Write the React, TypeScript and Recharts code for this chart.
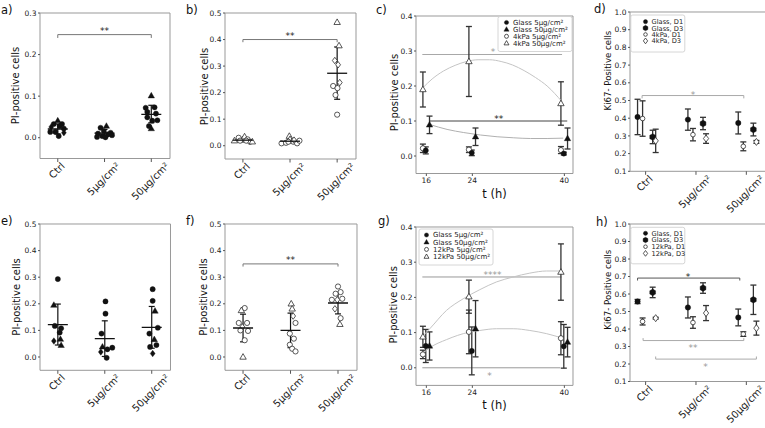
import React from 'react';
import {
  ComposedChart,
  Scatter,
  XAxis,
  YAxis,
  ErrorBar,
  ReferenceLine,
  ReferenceArea,
} from 'recharts';

const FONT = '"DejaVu Sans", Verdana, sans-serif';

// ---------------- data ----------------
const categories = ['Ctrl', '5µg/cm²', '50µg/cm²'];
const catTicks = [0, 1, 2];
const times = [16, 24, 40];
const timeTicks = [16, 24, 40];

// panel a (filled markers)
const aValues = [
  [0.041, 0.033, 0.033, 0.026, 0.028, 0.022, 0.014, 0.014, 0.012, 0.004],
  [0.028, 0.024, 0.016, 0.012, 0.010, 0.008, 0.004, 0.002, 0.006, 0.001],
  [0.101, 0.072, 0.073, 0.062, 0.058, 0.049, 0.041, 0.042, 0.028, 0.022],
];
const aMarkers = ['^oodoooodo', '^ooooooooo', '^oooooooo^'];
const aJitter = [
  [0, -0.085, 0.09, -0.14, 0.04, 0.13, -0.16, -0.05, 0.13, 0.02],
  [0.04, -0.085, -0.015, 0.13, -0.14, 0.07, -0.05, -0.16, 0.16, 0.02],
  [0, -0.12, 0.07, -0.085, 0.1, -0.085, 0.02, 0.13, -0.05, 0],
];
const aMean = [0.021, 0.011, 0.056];
const aLow = [0.009, 0.002, 0.036];
const aHigh = [0.033, 0.02, 0.078];

// panel b (open markers)
const bValues = [
  [0.019, 0.030, 0.024, 0.034, 0.024, 0.019, 0.015, 0.015, 0.019],
  [0.036, 0.024, 0.009, 0.011, 0.015, 0.009, 0.019, 0.021, 0.015],
  [0.465, 0.377, 0.321, 0.305, 0.225, 0.238, 0.217, 0.191, 0.117],
];
const bMarkers = ['^od^ooo^o', '^^ooooodo', '^^ddodooo'];
const bJitter = [
  [-0.18, -0.09, 0, 0.035, 0.1, -0.06, 0.15, 0.2, 0.07],
  [-0.015, 0, -0.18, -0.085, 0.07, 0.15, 0.2, 0.085, -0.035],
  [0, 0.04, -0.05, 0.02, -0.085, 0.055, 0.007, -0.035, 0],
];
const bMean = [0.021, 0.017, 0.273];
const bLow = [0.015, 0.011, 0.175];
const bHigh = [0.027, 0.023, 0.372];

// panel e (filled markers)
const eValues = [
  [0.293, 0.195, 0.117, 0.108, 0.092, 0.060, 0.067, 0.044],
  [0.209, 0.163, 0.088, 0.038, 0.019, 0.035, -0.003, 0.029],
  [0.255, 0.211, 0.173, 0.110, 0.088, 0.066, 0.045, 0.038, 0.013],
];
const eMarkers = ['o^oood^^', 'ooo^dooo', 'oo^oo^ood'];
const eJitter = [
  [0, -0.085, -0.065, 0.07, 0.04, -0.085, 0.055, 0.07],
  [0.015, 0.015, -0.07, -0.05, -0.085, 0.16, 0.04, 0.055],
  [0.02, 0.02, 0.07, 0.13, -0.05, 0.055, 0.1, -0.035, 0.02],
];
const eMean = [0.122, 0.069, 0.111];
const eLow = [0.045, 0.002, 0.033];
const eHigh = [0.199, 0.136, 0.19];

// panel f (open markers)
const fValues = [
  [0.184, 0.175, 0.128, 0.128, 0.113, 0.1, 0.098, 0.063, 0.0],
  [0.2, 0.181, 0.154, 0.128, 0.088, 0.069, 0.046, 0.031, 0.021],
  [0.265, 0.244, 0.238, 0.215, 0.215, 0.219, 0.181, 0.146, 0.123],
];
const fMarkers = ['o^oodooo^', '^^doooooo', 'oooododo^'];
const fJitter = [
  [0.035, -0.035, -0.09, 0.085, -0.015, -0.055, 0.105, 0.035, 0],
  [0.015, 0.035, 0.055, 0.105, -0.015, 0.07, -0.015, 0.035, 0.105],
  [0, 0.055, -0.05, -0.13, -0.015, 0.09, -0.065, 0.055, 0.04],
];
const fMean = [0.109, 0.1, 0.203];
const fLow = [0.057, 0.035, 0.162];
const fHigh = [0.161, 0.165, 0.243];

// panel c
const cGlass5 = [0.016, 0.009, 0.007];
const cGlass5Err = [0.01, 0.008, 0.004];
const cGlass50 = [0.089, 0.055, 0.05];
const cGlass50Err = [0.025, 0.025, 0.03];
const cSoft5 = [0.022, 0.018, 0.017];
const cSoft5Err = [0.012, 0.008, 0.01];
const cSoft50 = [0.19, 0.27, 0.15];
const cSoft50Err = [0.05, 0.1, 0.062];
const cFitUpperT = [15.4, 17, 19, 21, 23, 25, 27, 29, 31, 33, 35, 37, 39.6];
const cFitUpper = [0.195, 0.22, 0.243, 0.259, 0.27, 0.275, 0.275, 0.27, 0.26, 0.244, 0.224, 0.2, 0.155];
const cFitLowerT = [16.6, 19.6, 22.5, 25.4, 28.3, 31.2, 34.1, 37, 39.8];
const cFitLower = [0.09, 0.076, 0.067, 0.06, 0.055, 0.052, 0.05, 0.05, 0.051];

// panel g
const gGlass5 = [0.062, 0.048, 0.061];
const gGlass5Err = [0.047, 0.068, 0.062];
const gGlass50 = [0.062, 0.111, 0.073];
const gGlass50Err = [0.04, 0.08, 0.042];
const gSoft5 = [0.038, 0.102, 0.084];
const gSoft5Err = [0.012, 0.062, 0.047];
const gSoft50 = [0.088, 0.202, 0.272];
const gSoft50Err = [0.03, 0.047, 0.08];
const gFitUpperT = [15.3, 16.6, 19.5, 22.4, 25.3, 28.2, 31.1, 34, 36.9, 39.5];
const gFitUpper = [0.089, 0.111, 0.163, 0.196, 0.222, 0.244, 0.258, 0.269, 0.275, 0.275];
const gFitLowerT = [15.3, 16.6, 19.5, 23.4, 25.3, 28.2, 31.1, 34, 36.9, 39.5];
const gFitLower = [0.04, 0.057, 0.08, 0.101, 0.106, 0.111, 0.111, 0.106, 0.097, 0.085];

// panel d
const dGlassD1 = [0.407, 0.392, 0.373];
const dGlassD1Err = [0.1, 0.06, 0.062];
const dSoftD1 = [0.398, 0.307, 0.241];
const dSoftD1Err = [0.1, 0.035, 0.025];
const dGlassD3 = [0.294, 0.37, 0.336];
const dGlassD3Err = [0.038, 0.035, 0.036];
const dSoftD3 = [0.272, 0.285, 0.266];
const dSoftD3Err = [0.066, 0.027, 0.008];

// panel h
const hGlassD1 = [0.557, 0.523, 0.466];
const hGlassD1Err = [0.012, 0.06, 0.048];
const hSoftD1 = [0.443, 0.437, 0.371];
const hSoftD1Err = [0.02, 0.033, 0.013];
const hGlassD3 = [0.609, 0.634, 0.567];
const hGlassD3Err = [0.03, 0.03, 0.084];
const hSoftD3 = [0.462, 0.491, 0.405];
const hSoftD3Err = [0.005, 0.043, 0.04];

// legends
const cLegend = ['Glass 5µg/cm²', 'Glass 50µg/cm²', '4kPa 5µg/cm²', '4kPa 50µg/cm²'];
const gLegend = ['Glass 5µg/cm²', 'Glass 50µg/cm²', '12kPa 5µg/cm²', '12kPa 50µg/cm²'];
const dLegend = ['Glass, D1', 'Glass, D3', '4kPa, D1', '4kPa, D3'];
const hLegend = ['Glass, D1', 'Glass, D3', '12kPa, D1', '12kPa, D3'];

// ---------------- layout constants (not data) ----------------
const timeOffset = { soft: -0.6, glass5: -0.1, glass50: 0.55 };
const dayOffset = { glassD1: -0.16, softD1: -0.06, glassD3: 0.14, softD3: 0.2 };
const ML = 50, MT = 8, MR = 8, MB = 60;

// ---------------- helpers ----------------
const CW: Record<string, number> = {
  '0': 0.636, '1': 0.636, '2': 0.636, '3': 0.636, '4': 0.636, '5': 0.636,
  'µ': 0.636, g: 0.635, '/': 0.337, c: 0.55, m: 0.974, '²': 0.4, C: 0.698, t: 0.392, r: 0.411, l: 0.278,
};
const textW = (s: string, fs: number) => Array.from(s).reduce((a, ch) => a + (CW[ch] ?? 0.6), 0) * fs;

function Mk({ cx, cy, m, open, r = 2.6 }: any) {
  const fill = open ? '#fff' : '#111';
  const stroke = open ? '#222' : '#111';
  const sw = open ? 0.75 : 0.4;
  if (m === '^') {
    const s = r * 1.3;
    return (
      <polygon
        points={`${cx},${cy - s} ${cx + s * 0.95},${cy + s * 0.65} ${cx - s * 0.95},${cy + s * 0.65}`}
        fill={fill} stroke={stroke} strokeWidth={sw}
      />
    );
  }
  if (m === 'd') {
    const s = r * 1.25;
    return (
      <polygon
        points={`${cx},${cy - s} ${cx + s * 0.75},${cy} ${cx},${cy + s} ${cx - s * 0.75},${cy}`}
        fill={fill} stroke={stroke} strokeWidth={sw}
      />
    );
  }
  if (m === 'h') {
    const s = r * 1.15;
    const pts = [0, 1, 2, 3, 4, 5]
      .map((k) => {
        const ang = (Math.PI / 3) * k + Math.PI / 2;
        return `${cx + s * Math.cos(ang)},${cy - s * Math.sin(ang)}`;
      })
      .join(' ');
    return <polygon points={pts} fill={fill} stroke={stroke} strokeWidth={sw} />;
  }
  return <circle cx={cx} cy={cy} r={r} fill={fill} stroke={stroke} strokeWidth={sw} />;
}

const pointShape = (open: boolean, r = 2.6) => (p: any) =>
  <Mk cx={p.cx} cy={p.cy} m={(p.payload && p.payload.m) || 'o'} open={open} r={r} />;
const meanShape = (p: any) => (
  <line x1={p.cx - 10} x2={p.cx + 10} y1={p.cy} y2={p.cy} stroke="#111" strokeWidth={1.3} />
);
const emptyShape = () => <g />;

const stripPoints = (vals: number[][], marks: string[], jit: number[][]) =>
  vals.flatMap((arr, g) => arr.map((v, i) => ({ x: g + jit[g][i], y: v, m: marks[g][i] })));
const meanPoints = (mean: number[], low: number[], high: number[]) =>
  mean.map((mv, g) => ({ x: g, y: mv, e: [mv - low[g], high[g] - mv] }));

function strip(key: string, vals: number[][], marks: string[], jit: number[][], mean: number[], low: number[], high: number[], open: boolean) {
  return [
    <Scatter key={key + 'pts'} data={stripPoints(vals, marks, jit)} shape={pointShape(open)} isAnimationActive={false} />,
    <Scatter key={key + 'mean'} data={meanPoints(mean, low, high)} shape={meanShape} isAnimationActive={false}>
      <ErrorBar dataKey="e" direction="y" width={3} stroke="#111" strokeWidth={1.2} />
    </Scatter>,
  ];
}

function series(key: string, xs: number[], off: number, vals: number[], errs: number[], m: string, open: boolean, r = 2.6) {
  return (
    <Scatter
      key={key}
      data={xs.map((t, i) => ({ x: t + off, y: vals[i], e: errs[i], m }))}
      shape={pointShape(open, r)}
      isAnimationActive={false}
    >
      <ErrorBar dataKey="e" direction="y" width={3} stroke="#333" strokeWidth={1.3} />
    </Scatter>
  );
}

function curve(key: string, ts: number[], vs: number[], color: string) {
  return (
    <Scatter
      key={key}
      data={ts.map((t, i) => ({ x: t, y: vs[i] }))}
      line={{ stroke: color, strokeWidth: 1 }}
      lineJointType="monotoneX"
      shape={emptyShape}
      isAnimationActive={false}
    />
  );
}

function hline(key: string, x0: number, x1: number, y: number, color: string) {
  return (
    <ReferenceLine key={key} segment={[{ x: x0, y }, { x: x1, y }]} stroke={color} strokeWidth={1} ifOverflow="visible" />
  );
}

function bracket(key: string, x0: number, x1: number, y: number, tip: number, color: string) {
  return [
    hline(key + 'h', x0, x1, y, color),
    <ReferenceLine key={key + 'l'} segment={[{ x: x0, y }, { x: x0, y: tip }]} stroke={color} strokeWidth={1} ifOverflow="visible" />,
    <ReferenceLine key={key + 'r'} segment={[{ x: x1, y }, { x: x1, y: tip }]} stroke={color} strokeWidth={1} ifOverflow="visible" />,
  ];
}

function stars(key: string, x: number, y: number, text: string, color: string, fs = 9) {
  return (
    <Scatter
      key={key}
      data={[{ x, y }]}
      isAnimationActive={false}
      shape={(p: any) => (
        <text
          x={p.cx}
          y={p.cy + fs * 0.62}
          textAnchor="middle"
          fontSize={fs}
          fill={color}
          style={{ fill: color }}
          fontFamily={FONT}
        >
          {text}
        </text>
      )}
    />
  );
}

const catTick = (p: any) => {
  const label = categories[p.payload.value] ?? '';
  const fs = 10;
  const d = (textW(label, fs) + fs * 1.2) / (2 * Math.SQRT2);
  const cx = p.x - 1;
  const cy = p.y - 2 + d;
  return (
    <text
      x={cx}
      y={cy}
      transform={`rotate(-45 ${cx} ${cy})`}
      textAnchor="middle"
      dominantBaseline="central"
      fontSize={fs}
      fill="#222"
      fontFamily={FONT}
    >
      {label}
    </text>
  );
};

type Box = { x: number; y: number; w: number; h: number };

function panel(opts: {
  key: string;
  box: Box;
  xDom: number[];
  yDom: number[];
  yTicks: number[];
  kind: 'cat' | 'time';
  yLabel: string;
  yLabelPos: number[];
  yLabelSize: number;
  children: any;
}) {
  const { box, xDom, yDom, yTicks, kind } = opts;
  const ox = box.x - ML;
  const oy = box.y - MT;
  const [lx, ly] = [opts.yLabelPos[0] - ox, opts.yLabelPos[1] - oy];
  return (
    <div key={opts.key} style={{ position: 'absolute', left: ox, top: oy }}>
      <ComposedChart width={box.w + ML + MR} height={box.h + MT + MB} margin={{ top: MT, right: MR, bottom: 0, left: 0 }}>
        <XAxis
          type="number"
          dataKey="x"
          domain={xDom}
          allowDataOverflow
          ticks={kind === 'cat' ? catTicks : timeTicks}
          interval={0}
          height={MB}
          axisLine={false}
          tickSize={kind === 'cat' ? 3.5 : 2.5}
          tickMargin={kind === 'cat' ? 0 : 2}
          tickLine={{ stroke: '#555' }}
          tick={kind === 'cat' ? catTick : { fontSize: 7.5, fill: '#222', fontFamily: FONT }}
          label={
            kind === 'time'
              ? {
                  content: (lp: any) => {
                    const vb = lp.viewBox || {};
                    return (
                      <text x={vb.x + vb.width / 2} y={vb.y + 24} textAnchor="middle" fontSize={11.5} fill="#111" fontFamily={FONT}>
                        t (h)
                      </text>
                    );
                  },
                }
              : undefined
          }
        />
        <YAxis
          type="number"
          dataKey="y"
          domain={yDom}
          allowDataOverflow
          ticks={yTicks}
          interval={0}
          width={ML}
          axisLine={false}
          tickSize={2}
          tickMargin={1.5}
          tickLine={{ stroke: '#555' }}
          tick={{ fontSize: 7.5, fill: '#222', fontFamily: FONT }}
          tickFormatter={(v: number) => v.toFixed(1)}
          label={{
            content: () => (
              <text
                x={lx}
                y={ly}
                transform={`rotate(-90 ${lx} ${ly})`}
                textAnchor="middle"
                dominantBaseline="central"
                fontSize={opts.yLabelSize}
                fill="#111"
                fontFamily={FONT}
              >
                {opts.yLabel}
              </text>
            ),
          }}
        />
        <ReferenceArea x1={xDom[0]} x2={xDom[1]} y1={yDom[0]} y2={yDom[1]} fill="none" stroke="#999" strokeWidth={1} ifOverflow="visible" />
        {opts.children}
      </ComposedChart>
    </div>
  );
}

function LegendBox({ x, y, w, h, y0, dy, mx, tx, labels, kinds, fs = 7 }: any) {
  return (
    <g>
      <rect x={x} y={y} width={w} height={h} rx={2} fill="#fff" stroke="#ccc" strokeWidth={0.8} />
      {labels.map((lab: string, i: number) => (
        <g key={lab}>
          <Mk cx={mx} cy={y0 + i * dy} m={kinds[i].m} open={kinds[i].open} r={kinds[i].r} />
          <text x={tx} y={y0 + i * dy + 2.4} fontSize={fs} fill="#222" fontFamily={FONT}>
            {lab}
          </text>
        </g>
      ))}
    </g>
  );
}

const timeKinds = [
  { m: 'o', open: false, r: 2.1 },
  { m: '^', open: false, r: 2.1 },
  { m: 'o', open: true, r: 2.0 },
  { m: '^', open: true, r: 2.0 },
];
const dayKinds = [
  { m: 'o', open: false, r: 2.1 },
  { m: 'h', open: false, r: 2.4 },
  { m: 'o', open: true, r: 1.8 },
  { m: 'd', open: true, r: 2.3 },
];

export default function App() {
  const catDom = [-0.38, 2.4];
  const dayDom = [-0.31, 2.47];
  const tDom = [14.2, 41.5];
  const yPI5 = [0, 0.1, 0.2, 0.3, 0.4, 0.5];
  const yPI4 = [0, 0.1, 0.2, 0.3, 0.4];
  const yKi = [0.1, 0.2, 0.3, 0.4, 0.5, 0.6, 0.7, 0.8, 0.9, 1.0];

  const panels = [
    panel({
      key: 'a', box: { x: 40, y: 13, w: 130, h: 145.5 }, xDom: catDom, yDom: [-0.05, 0.3], yTicks: [0, 0.1, 0.2, 0.3],
      kind: 'cat', yLabel: 'PI-positive cells', yLabelPos: [15.5, 85.5], yLabelSize: 10,
      children: [
        ...bracket('ab', 0, 2, 0.248, 0.24, '#777'),
        stars('as', 1, 0.262, '**', '#222'),
        ...strip('a', aValues, aMarkers, aJitter, aMean, aLow, aHigh, false),
      ],
    }),
    panel({
      key: 'b', box: { x: 225, y: 13, w: 131, h: 146 }, xDom: catDom, yDom: [-0.05, 0.5], yTicks: yPI5,
      kind: 'cat', yLabel: 'PI-positive cells', yLabelPos: [204, 86.5], yLabelSize: 10,
      children: [
        ...bracket('bb', 0, 2, 0.4, 0.39, '#777'),
        stars('bs', 1, 0.422, '**', '#222'),
        ...strip('b', bValues, bMarkers, bJitter, bMean, bLow, bHigh, true),
      ],
    }),
    panel({
      key: 'c', box: { x: 416, y: 15.5, w: 157, h: 157.5 }, xDom: tDom, yDom: [-0.05, 0.4], yTicks: yPI4,
      kind: 'time', yLabel: 'PI-positive cells', yLabelPos: [394, 92], yLabelSize: 10,
      children: [
        curve('cu', cFitUpperT, cFitUpper, '#c4c4c4'),
        curve('cl', cFitLowerT, cFitLower, '#b0b0b0'),
        hline('cs1', 15.3, 39.6, 0.29, '#a8a8a8'),
        stars('cs1t', 27.6, 0.305, '*', '#999'),
        hline('cs2', 16.6, 40.5, 0.1, '#444'),
        stars('cs2t', 28.6, 0.114, '**', '#222'),
        series('c1', times, timeOffset.soft, cSoft50, cSoft50Err, '^', true),
        series('c2', times, timeOffset.soft, cSoft5, cSoft5Err, 'o', true),
        series('c3', times, timeOffset.glass5, cGlass5, cGlass5Err, 'o', false),
        series('c4', times, timeOffset.glass50, cGlass50, cGlass50Err, '^', false),
      ],
    }),
    panel({
      key: 'd', box: { x: 630.3, y: 12.4, w: 140, h: 159.3 }, xDom: dayDom, yDom: [0.1, 1.0], yTicks: yKi,
      kind: 'cat', yLabel: 'Ki67- Positive cells', yLabelPos: [608.5, 71], yLabelSize: 8.6,
      children: [
        ...bracket('db', -0.07, 1.95, 0.528, 0.512, '#aaa'),
        stars('ds', 0.94, 0.546, '*', '#999'),
        series('d1', catTicks, dayOffset.glassD1, dGlassD1, dGlassD1Err, 'o', false, 2.7),
        series('d2', catTicks, dayOffset.softD1, dSoftD1, dSoftD1Err, 'o', true, 2.3),
        series('d3', catTicks, dayOffset.glassD3, dGlassD3, dGlassD3Err, 'h', false, 2.9),
        series('d4', catTicks, dayOffset.softD3, dSoftD3, dSoftD3Err, 'd', true, 2.8),
      ],
    }),
    panel({
      key: 'e', box: { x: 39.5, y: 224, w: 130.5, h: 146.3 }, xDom: catDom, yDom: [-0.05, 0.5], yTicks: yPI5,
      kind: 'cat', yLabel: 'PI-positive cells', yLabelPos: [15.8, 297], yLabelSize: 10,
      children: [...strip('e', eValues, eMarkers, eJitter, eMean, eLow, eHigh, false)],
    }),
    panel({
      key: 'f', box: { x: 225, y: 224, w: 132, h: 146.3 }, xDom: catDom, yDom: [-0.05, 0.5], yTicks: yPI5,
      kind: 'cat', yLabel: 'PI-positive cells', yLabelPos: [204, 297], yLabelSize: 10,
      children: [
        ...bracket('fb', 0, 2, 0.35, 0.34, '#777'),
        stars('fs', 1, 0.373, '**', '#222'),
        ...strip('f', fValues, fMarkers, fJitter, fMean, fLow, fHigh, true),
      ],
    }),
    panel({
      key: 'g', box: { x: 416, y: 227.2, w: 157, h: 158.4 }, xDom: tDom, yDom: [-0.05, 0.4], yTicks: yPI4,
      kind: 'time', yLabel: 'PI-positive cells', yLabelPos: [393.5, 305], yLabelSize: 10,
      children: [
        curve('gu', gFitUpperT, gFitUpper, '#c4c4c4'),
        curve('gl', gFitLowerT, gFitLower, '#c4c4c4'),
        hline('gs1', 15.3, 39.5, 0.258, '#999'),
        stars('gs1t', 27.5, 0.272, '****', '#999'),
        hline('gs2', 15.3, 39.3, 0.0, '#999'),
        stars('gs2t', 27.0, -0.016, '*', '#999'),
        series('g1', times, timeOffset.soft, gSoft50, gSoft50Err, '^', true),
        series('g2', times, timeOffset.soft, gSoft5, gSoft5Err, 'o', true),
        series('g3', times, timeOffset.glass5, gGlass5, gGlass5Err, 'o', false),
        series('g4', times, timeOffset.glass50, gGlass50, gGlass50Err, '^', false),
      ],
    }),
    panel({
      key: 'h', box: { x: 630.3, y: 224.2, w: 140, h: 157.5 }, xDom: dayDom, yDom: [0.1, 1.0], yTicks: yKi,
      kind: 'cat', yLabel: 'Ki67- Positive cells', yLabelPos: [608.5, 290], yLabelSize: 8.6,
      children: [
        ...bracket('hb1', -0.16, 1.87, 0.691, 0.677, '#555'),
        stars('hs1', 0.84, 0.71, '*', '#222'),
        ...bracket('hb2', -0.05, 1.95, 0.334, 0.348, '#aaa'),
        stars('hs2', 0.94, 0.304, '**', '#999'),
        ...bracket('hb3', 0.2, 2.2, 0.228, 0.243, '#aaa'),
        stars('hs3', 1.19, 0.199, '*', '#999'),
        series('h1', catTicks, dayOffset.glassD1, hGlassD1, hGlassD1Err, 'o', false, 2.7),
        series('h2', catTicks, dayOffset.softD1, hSoftD1, hSoftD1Err, 'o', true, 2.3),
        series('h3', catTicks, dayOffset.glassD3, hGlassD3, hGlassD3Err, 'h', false, 2.9),
        series('h4', catTicks, dayOffset.softD3, hSoftD3, hSoftD3Err, 'd', true, 2.8),
      ],
    }),
  ];

  const letters = [
    ['a)', 1, 14], ['b)', 186, 14], ['c)', 376, 14], ['d)', 594, 13],
    ['e)', 1, 225], ['f)', 186, 225], ['g)', 378, 225], ['h)', 596, 226],
  ];

  return (
    <div style={{ position: 'absolute', left: 0, top: 0, width: 765, height: 428, overflow: 'hidden', background: '#fff' }}>
      {panels}
      <svg width={765} height={428} style={{ position: 'absolute', left: 0, top: 0, pointerEvents: 'none' }}>
        {letters.map(([t, x, y]) => (
          <text key={t as string} x={x as number} y={y as number} fontSize={11.5} fill="#111" fontFamily={FONT}>
            {t}
          </text>
        ))}
        <LegendBox x={498} y={16.5} w={74} h={35} y0={22.5} dy={6.9} mx={506.5} tx={513} labels={cLegend} kinds={timeKinds} />
        <LegendBox x={419} y={229} w={74} h={36} y0={235} dy={7.2} mx={426.5} tx={433} labels={gLegend} kinds={timeKinds} />
        <LegendBox x={630.8} y={15} w={54} h={37} y0={21.7} dy={6.4} mx={645.5} tx={651.5} labels={dLegend} kinds={dayKinds} fs={6.7} />
        <LegendBox x={630.8} y={227.3} w={54} h={36.5} y0={233.3} dy={6.7} mx={645.5} tx={651.5} labels={hLegend} kinds={dayKinds} fs={6.7} />
      </svg>
    </div>
  );
}
